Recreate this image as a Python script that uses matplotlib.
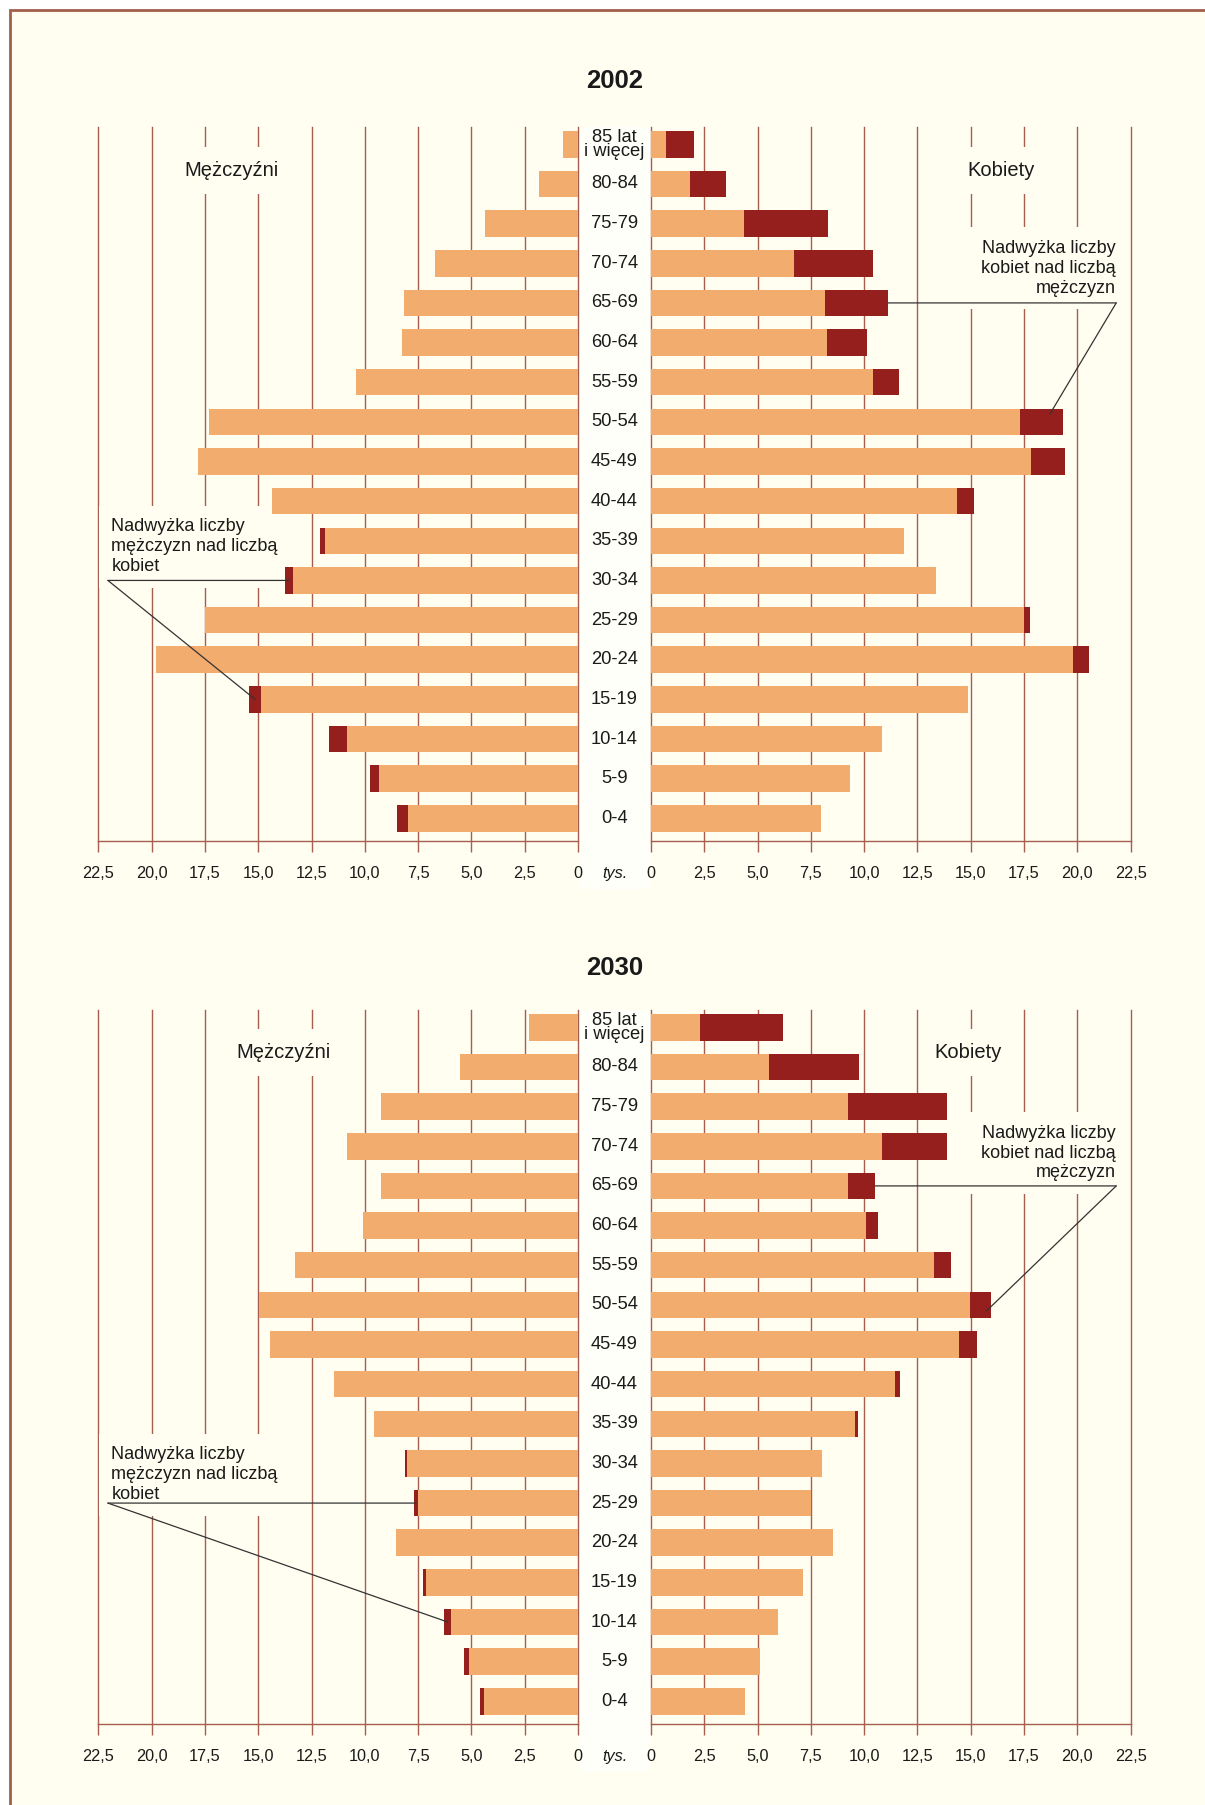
import matplotlib
matplotlib.use('Agg')
import matplotlib.pyplot as plt
from matplotlib import font_manager as fm
from matplotlib.patches import Rectangle
from matplotlib.transforms import blended_transform_factory
import numpy as np

# ---------------- data (thousands) ----------------
ages = ['85 lat\ni więcej', '80-84', '75-79', '70-74', '65-69', '60-64', '55-59',
        '50-54', '45-49', '40-44', '35-39', '30-34', '25-29', '20-24', '15-19',
        '10-14', '5-9', '0-4']

men_2002 = [0.70, 1.83, 4.36, 6.70, 8.16, 8.25, 10.41, 17.30, 17.81, 14.34,
            12.09, 13.73, 17.52, 19.78, 15.42, 11.67, 9.75, 8.48]
women_2002 = [2.03, 3.53, 8.31, 10.42, 11.13, 10.14, 11.64, 19.33, 19.42, 15.16,
              11.88, 13.38, 17.78, 20.55, 14.88, 10.84, 9.34, 7.98]

men_2030 = [2.30, 5.53, 9.23, 10.83, 9.23, 10.08, 13.27, 14.95, 14.44, 11.44,
            9.56, 8.11, 7.69, 8.53, 7.27, 6.28, 5.34, 4.59]
women_2030 = [6.20, 9.77, 13.89, 13.89, 10.52, 10.66, 14.08, 15.95, 15.30, 11.69,
              9.72, 8.03, 7.50, 8.55, 7.13, 5.95, 5.11, 4.41]

x_ticks = [0, 2.5, 5, 7.5, 10, 12.5, 15, 17.5, 20, 22.5]
x_tick_labels = ['0', '2,5', '5,0', '7,5', '10,0', '12,5', '15,0', '17,5', '20,0', '22,5']

years = ['2002', '2030']
label_men = 'Mężczyźni'
label_women = 'Kobiety'
note_men = 'Nadwyżka liczby\nmężczyzn nad liczbą\nkobiet'
note_women = 'Nadwyżka liczby\nkobiet nad liczbą\nmężczyzn'
unit = 'tys.'

# ---------------- style ----------------
BG = '#FFFEF1'
COL_BG = '#FFFFFA'
ORANGE = '#F2AC6E'
DARK = '#951F1D'
GRID = '#A65E4E'
BORDER = '#A0604C'
TEXT = '#1A1A1A'
LINE = '#333333'

names = {f.name for f in fm.fontManager.ttflist}
NARROW = 'Liberation Sans Narrow' in names
BASE = ['Liberation Sans', 'DejaVu Sans']
plt.rcParams['font.family'] = BASE
if NARROW:
    AGE_FONT = dict(family=['Liberation Sans Narrow', 'Liberation Sans', 'DejaVu Sans'], size=15)
    TITLE_FONT = dict(family=['Liberation Sans Narrow', 'Liberation Sans', 'DejaVu Sans'], size=21.5, weight='bold')
else:
    AGE_FONT = dict(family=BASE, size=13.2)
    TITLE_FONT = dict(family=BASE, size=18.5, weight='bold')

W, H = 1205, 1805
fig = plt.figure(figsize=(W / 100, H / 100), dpi=100, facecolor='white')


def fx(px):
    return px / W


def fy(py):
    return 1 - py / H


# frame (top and left border only visible)
fig.patches.append(Rectangle((fx(10), -0.02), 1.2, (H - 9.5) / H + 0.02,
                             transform=fig.transFigure, facecolor=BG,
                             edgecolor=BORDER, linewidth=2.0, zorder=-2))

AX_H = 714.4
AX_W = 479.5
XL, XR = 98.5, 651.0
CENTER_X = 614.5
YLIM = (-0.57, 17.45)
BAR_H = 0.67


def panel(top, men, women, year, title_y, men_lbl_pos, women_lbl_pos,
          men_note_pos, women_note_pos, men_note_rows, women_note_rows,
          women_diag_frac, women_diag_dy):
    bottom = top + AX_H
    # whitish label column
    fig.patches.append(Rectangle((fx(XL + AX_W + 1), fy(bottom + 48)), (XR - XL - AX_W - 2) / W,
                                 (AX_H + 48) / H, transform=fig.transFigure,
                                 facecolor=COL_BG, edgecolor='none', zorder=-1))
    axL = fig.add_axes([fx(XL), fy(bottom), AX_W / W, AX_H / H])
    axR = fig.add_axes([fx(XR), fy(bottom), AX_W / W, AX_H / H])
    y = 17 - np.arange(len(ages))
    men = np.asarray(men)
    women = np.asarray(women)
    common = np.minimum(men, women)
    for ax, vals in ((axL, men), (axR, women)):
        ax.set_facecolor('none')
        ax.barh(y, common, height=BAR_H, color=ORANGE, zorder=3, linewidth=0)
        ax.barh(y, vals - common, left=common, height=BAR_H, color=DARK, zorder=3, linewidth=0)
        ax.set_xlim(0, 22.5)
        ax.set_ylim(*YLIM)
        ax.set_xticks(x_ticks)
        ax.set_xticklabels(x_tick_labels)
        ax.set_yticks([])
        ax.set_axisbelow(True)
        ax.grid(axis='x', color=GRID, linewidth=1.0)
        ax.grid(axis='y', visible=False)
        for gl in ax.get_xgridlines():
            gl.set_clip_on(False)
        for s in ('top', 'left', 'right'):
            ax.spines[s].set_visible(False)
        ax.spines['bottom'].set_color(GRID)
        ax.spines['bottom'].set_linewidth(1.0)
        ax.tick_params(axis='x', direction='out', length=8, width=1.0, color=GRID,
                       pad=10.0, labelsize=11.7, labelcolor=TEXT)
    axL.invert_xaxis()

    # age labels in the middle column
    trans = blended_transform_factory(axL.transAxes, axL.transData)
    xc = (CENTER_X - XL) / AX_W
    for yi, lab in zip(y, ages):
        ax_kw = dict(transform=trans, ha='center', va='center', color=TEXT, **AGE_FONT)
        if '\n' in lab:
            axL.text(xc, yi, lab, linespacing=0.72, **ax_kw)
        else:
            axL.text(xc, yi, lab, **ax_kw)
    # unit
    axL.text(xc, -37.5 / AX_H, unit, transform=axL.transAxes, ha='center', va='baseline',
             fontsize=11.7, style='italic', color=TEXT)

    # title
    fig.text(fx(CENTER_X), fy(title_y), year, ha='center', va='center', color=TEXT, **TITLE_FONT)

    box = dict(boxstyle='square,pad=0.7', facecolor=BG, edgecolor='none')
    axL.text(men_lbl_pos[0], men_lbl_pos[1], label_men, ha='center', va='center',
             fontsize=14.5, color=TEXT, zorder=2, bbox=box)
    axR.text(women_lbl_pos[0], women_lbl_pos[1], label_women, ha='center', va='center',
             fontsize=14.5, color=TEXT, zorder=2, bbox=box)

    # notes
    axL.text(men_note_pos[0], men_note_pos[1], note_men, ha='left', va='center',
             multialignment='left', fontsize=13, color=TEXT, linespacing=1.22,
             zorder=2, bbox=box)
    axR.text(women_note_pos[0], women_note_pos[1], note_women, ha='right', va='center',
             multialignment='right', fontsize=13, color=TEXT, linespacing=1.22,
             zorder=2, bbox=box)

    ap = dict(arrowstyle='-', color=LINE, lw=0.9, shrinkA=0, shrinkB=0)
    # men excess pointer lines
    rh, rd = men_note_rows
    ih, idd = 17 - rh, 17 - rd
    anchor = (22.06, rh)
    axL.annotate('', xy=((common[ih] + men[ih]) / 2, rh), xytext=anchor,
                 arrowprops=ap, zorder=5)
    axL.annotate('', xy=((common[idd] + men[idd]) / 2, rd), xytext=anchor,
                 arrowprops=ap, zorder=5)
    # women excess pointer lines
    rh, rd = women_note_rows
    ih, idd = 17 - rh, 17 - rd
    anchor = (21.83, rh)
    axR.annotate('', xy=(women[ih], rh), xytext=anchor, arrowprops=ap, zorder=5)
    axR.annotate('', xy=(common[idd] + women_diag_frac * (women[idd] - common[idd]),
                         rd + women_diag_dy), xytext=anchor, arrowprops=ap, zorder=5)


panel(126.5, men_2002, women_2002, years[0], 80.6,
      (16.27, 16.33), (16.41, 16.33), (21.89, 6.85), (21.80, 13.87),
      (6, 3), (13, 10), 0.7, 0.2)
panel(1009.5, men_2030, women_2030, years[1], 968.0,
      (13.84, 16.37), (14.90, 16.37), (21.89, 5.72), (21.80, 13.83),
      (5, 2), (13, 10), 0.8, -0.15)

fig.savefig('out.png', dpi=100, facecolor=fig.get_facecolor())
